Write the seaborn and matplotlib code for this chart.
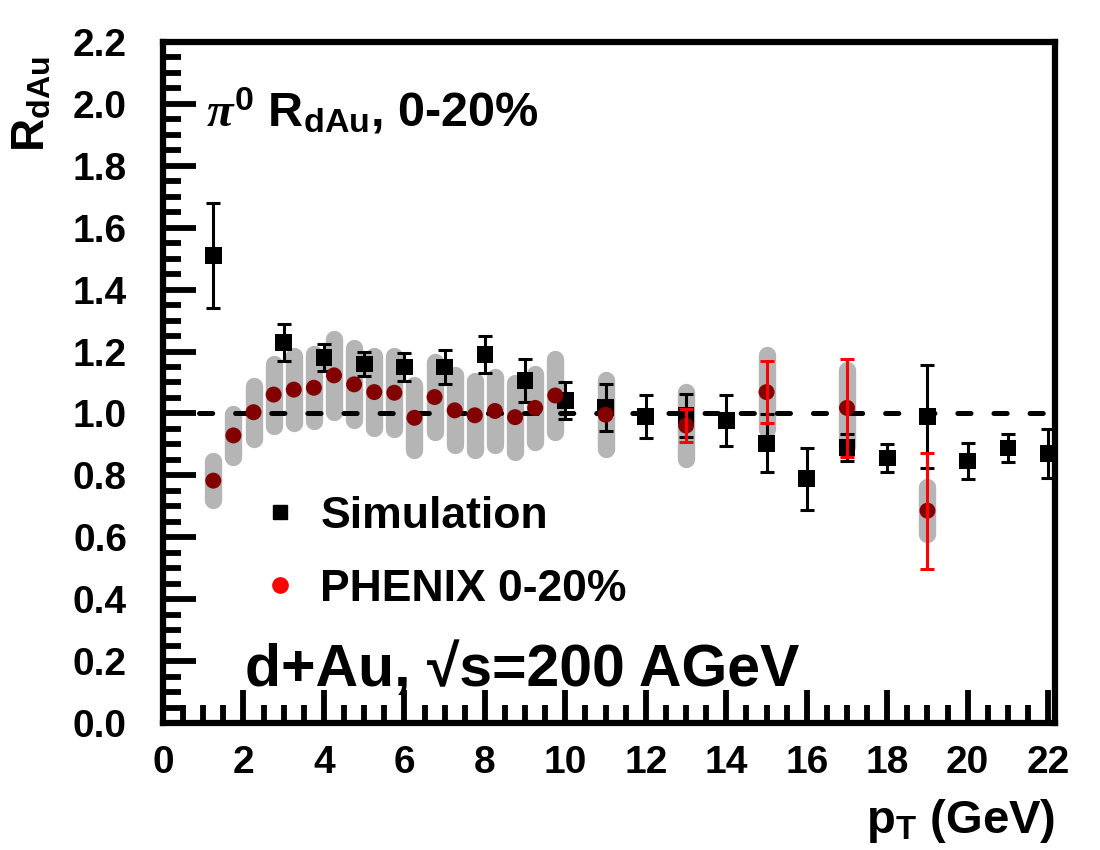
import numpy as np
import pandas as pd
import matplotlib
matplotlib.use("Agg")
import matplotlib.pyplot as plt
import seaborn as sns
from matplotlib.lines import Line2D
from matplotlib.ticker import MultipleLocator, FixedLocator, FormatStrFormatter

# ---------------- data ----------------
sim_pt = [1.25, 3, 4, 5, 6, 7, 8, 9, 10, 11, 12, 13, 14, 15, 16, 17, 18, 19, 20, 21, 22]
sim_raa = [1.51, 1.23, 1.18, 1.16, 1.15, 1.15, 1.19, 1.107, 1.041, 1.019, 0.991, 0.994, 0.978,
           0.904, 0.789, 0.891, 0.856, 0.99, 0.846, 0.888, 0.87]
sim_err = [0.17, 0.059, 0.044, 0.038, 0.044, 0.054, 0.06, 0.07, 0.06, 0.077, 0.07, 0.069, 0.082,
           0.094, 0.10, 0.043, 0.046, 0.165, 0.057, 0.046, 0.08]

phx_pt = [1.25, 1.75, 2.25, 2.75, 3.25, 3.75, 4.25, 4.75, 5.25, 5.75, 6.25, 6.75, 7.25, 7.75,
          8.25, 8.75, 9.25, 9.75, 11, 13, 15, 17, 19]
phx_raa = [0.783, 0.929, 1.004, 1.061, 1.077, 1.083, 1.123, 1.094, 1.069, 1.067, 0.986, 1.053,
           1.010, 0.994, 1.008, 0.988, 1.018, 1.058, 0.996, 0.961, 1.069, 1.018, 0.686]
phx_stat = [0, 0, 0, 0, 0, 0, 0, 0, 0, 0, 0, 0, 0, 0, 0, 0, 0, 0, 0, 0.054, 0.10, 0.159, 0.187]
phx_sys = [0.062, 0.070, 0.086, 0.100, 0.107, 0.108, 0.119, 0.116, 0.117, 0.117, 0.105, 0.114,
           0.113, 0.111, 0.111, 0.111, 0.111, 0.118, 0.111, 0.109, 0.119, 0.122, 0.076]

x_ticks = [0, 2, 4, 6, 8, 10, 12, 14, 16, 18, 20, 22]
y_ticks = [0.0, 0.2, 0.4, 0.6, 0.8, 1.0, 1.2, 1.4, 1.6, 1.8, 2.0, 2.2]
ref_level = 1.0

sim_label = "Simulation"
phx_label = "PHENIX 0-20%"

# ---------------- style ----------------
sns.set_theme(style="ticks")
plt.rcParams["font.family"] = ["Liberation Sans", "DejaVu Sans"]
plt.rcParams.update({
    "font.weight": "bold",
    "axes.labelweight": "bold",
    "text.color": "black",
    "axes.labelcolor": "black",
    "xtick.color": "black",
    "ytick.color": "black",
    "mathtext.fontset": "custom",
    "mathtext.rm": "Liberation Sans:bold",
    "mathtext.bf": "Liberation Sans:bold",
    "mathtext.it": "Liberation Serif:italic",
    "mathtext.sf": "Liberation Sans:bold",
    "lines.scale_dashes": False,
    "axes.facecolor": "white",
    "figure.facecolor": "white",
})

fig = plt.figure(figsize=(11, 8.5), dpi=100)
ax = fig.add_axes([163 / 1100, 1 - 723 / 850, (1055 - 163) / 1100, (723 - 42) / 850])

sim_df = pd.DataFrame({"pt": sim_pt, "raa": sim_raa, "err": sim_err})
phx_df = pd.DataFrame({"pt": phx_pt, "raa": phx_raa, "stat": phx_stat, "sys": phx_sys})

# systematic bands
ax.vlines(phx_df["pt"], phx_df["raa"] - phx_df["sys"], phx_df["raa"] + phx_df["sys"],
          colors="#b5b5b5", linewidth=12.5, capstyle="round", zorder=1)

# reference line
ax.hlines(ref_level, 0.9, 22.2, colors="black", linestyles=[(0, (9.5, 16.5))],
          linewidth=3.6, capstyle="round", zorder=2)

# simulation
ax.errorbar(sim_df["pt"], sim_df["raa"], yerr=sim_df["err"], fmt="none", ecolor="black",
            elinewidth=2.2, capsize=4.7, capthick=2.2, zorder=3)
sns.scatterplot(data=sim_df, x="pt", y="raa", marker="s", s=12 ** 2, color="black",
                edgecolor="none", linewidth=0, ax=ax, zorder=4, legend=False)

# PHENIX
sns.scatterplot(data=phx_df, x="pt", y="raa", marker="o", s=11.5 ** 2, color="#820000",
                edgecolor="none", linewidth=0, ax=ax, zorder=5, legend=False)
stat_df = phx_df[phx_df["stat"] > 0]
ax.errorbar(stat_df["pt"], stat_df["raa"], yerr=stat_df["stat"], fmt="none", ecolor="#ff0000",
            elinewidth=2.2, capsize=4.7, capthick=2.2, zorder=6)

# axes
ax.set_xlim(0, 22.17)
ax.set_ylim(0, 2.2)
ax.xaxis.set_major_locator(FixedLocator(x_ticks))
ax.yaxis.set_major_locator(FixedLocator(y_ticks))
ax.xaxis.set_minor_locator(MultipleLocator(0.5))
ax.yaxis.set_minor_locator(MultipleLocator(0.05))
ax.xaxis.set_major_formatter(FormatStrFormatter("%d"))
ax.yaxis.set_major_formatter(FormatStrFormatter("%.1f"))
ax.tick_params(axis="both", which="both", direction="in", top=False, right=False,
               color="black", labelcolor="black")
ax.tick_params(axis="both", which="major", length=24, width=4.2, labelsize=28)
ax.tick_params(axis="both", which="minor", length=13, width=4.2)
ax.tick_params(axis="y", which="major", pad=26)
ax.tick_params(axis="x", which="major", pad=16)
for lab in ax.get_xticklabels() + ax.get_yticklabels():
    lab.set_fontweight("bold")
for s in ax.spines.values():
    s.set_linewidth(4.5)
    s.set_color("black")
    s.set_capstyle("projecting")

ax.set_xlabel(r"$\mathrm{p}_{\mathrm{T}}$ (GeV)", fontsize=34, fontweight="bold",
              ha="right", va="baseline", color="black")
ax.xaxis.set_label_coords(1.0, (723 - 833) / 681)
ax.set_ylabel(r"$\mathrm{R}_{\mathrm{dAu}}$", fontsize=33, fontweight="bold",
              ha="left", va="baseline", rotation=90, rotation_mode="anchor", color="black")
ax.yaxis.set_label_coords((45 - 163) / 892, (723 - 152) / 681)

# annotations
ax.text((206 - 163) / 892, (723 - 127) / 681,
        r"$\pi^{0}$ $\mathrm{R}_{\mathrm{dAu}}$, 0-20%", transform=ax.transAxes,
        fontsize=35, fontweight="bold", va="baseline", ha="left", color="black")
ax.text((245 - 163) / 892, (723 - 686) / 681, "d+Au, \u221as=200 AGeV", transform=ax.transAxes,
        fontsize=42.5, fontweight="bold", va="baseline", ha="left", color="black")

handles = [
    Line2D([], [], marker="s", color="black", linestyle="none", markersize=10.5),
    Line2D([], [], marker="o", color="#ff0000", linestyle="none", markersize=11),
]
leg = ax.legend(handles, [sim_label, phx_label], loc="upper left",
                bbox_to_anchor=((258 - 163) / 892, (723 - 496) / 681), frameon=False,
                prop={"family": ["Liberation Sans", "DejaVu Sans"], "weight": "bold", "size": 32},
                handlelength=1.0, handletextpad=0.4, labelspacing=0.72, borderpad=0,
                borderaxespad=0, numpoints=1)
for t in leg.get_texts():
    t.set_color("black")

fig.savefig("out.png", dpi=100)
